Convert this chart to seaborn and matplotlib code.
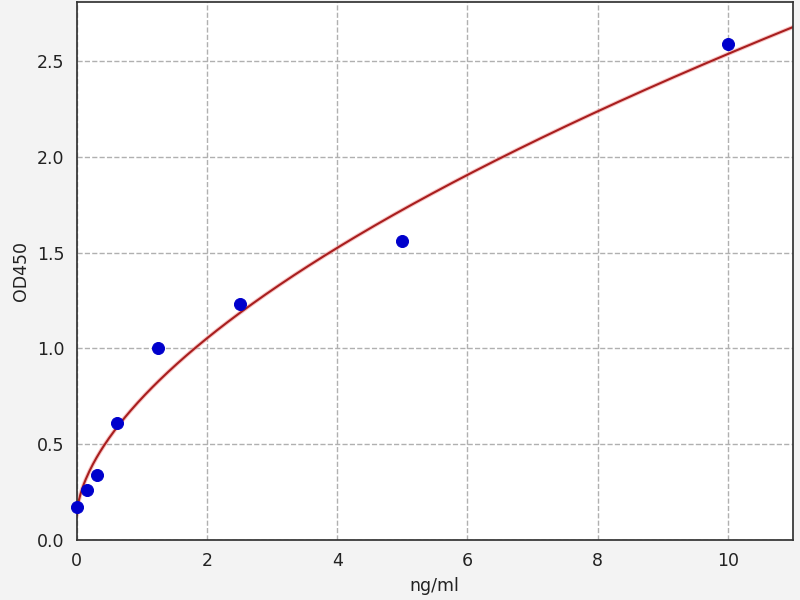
import numpy as np
import pandas as pd
import seaborn as sns
import matplotlib
matplotlib.use("Agg")
import matplotlib.pyplot as plt

# standard concentrations (ng/ml) and measured OD450
conc = [0.0, 0.156, 0.3125, 0.625, 1.25, 2.5, 5.0, 10.0]
od450 = [0.17, 0.26, 0.34, 0.61, 1.00, 1.23, 1.56, 2.59]

df = pd.DataFrame({"ng/ml": conc, "OD450": od450})

# power-law fit y = a + b * x^c, c by grid search, a/b by least squares
x = np.array(conc)
y = np.array(od450)
best = None
for c in np.arange(0.3, 1.0, 0.005):
    A = np.column_stack([np.ones_like(x), x ** c])
    coef, res, *_ = np.linalg.lstsq(A, y, rcond=None)
    err = np.sum((A @ coef - y) ** 2)
    if best is None or err < best[0]:
        best = (err, coef, c)
_, (a, b), c = best
xfit = np.linspace(0, 11, 400)
fit = pd.DataFrame({"ng/ml": xfit, "OD450": a + b * xfit ** c})

sns.set_style("white")
fig = plt.figure(figsize=(6.4, 4.8), dpi=125, facecolor="#f3f3f3")
ax = fig.add_axes([0.096, 0.1, 0.895, 0.897])
ax.set_facecolor("white")

sns.lineplot(data=fit, x="ng/ml", y="OD450", ax=ax, color="#f4a0a0", lw=2.4, alpha=0.6)
sns.lineplot(data=fit, x="ng/ml", y="OD450", ax=ax, color="#a81e1e", lw=1.2)
sns.scatterplot(data=df, x="ng/ml", y="OD450", ax=ax, color="#0000cc", s=48,
                edgecolor="#0000cc", zorder=5, clip_on=False)

ax.set_xlim(0, 11)
ax.set_ylim(0, 2.81)
ax.set_xticks(np.arange(0, 11, 2))
ax.set_yticks(np.arange(0, 2.6, 0.5))
ax.grid(True, linestyle="--", color="#b0b0b0", lw=0.8)
ax.tick_params(axis="both", direction="out", length=3.5, width=0.8, colors="#222222", labelsize=10)
for sp in ax.spines.values():
    sp.set_color("#333333")
    sp.set_linewidth(1.0)
ax.set_xlabel("ng/ml", fontsize=10, color="#222222")
ax.set_ylabel("OD450", fontsize=10, color="#222222")

fig.savefig("out.png", dpi=125, facecolor=fig.get_facecolor())
